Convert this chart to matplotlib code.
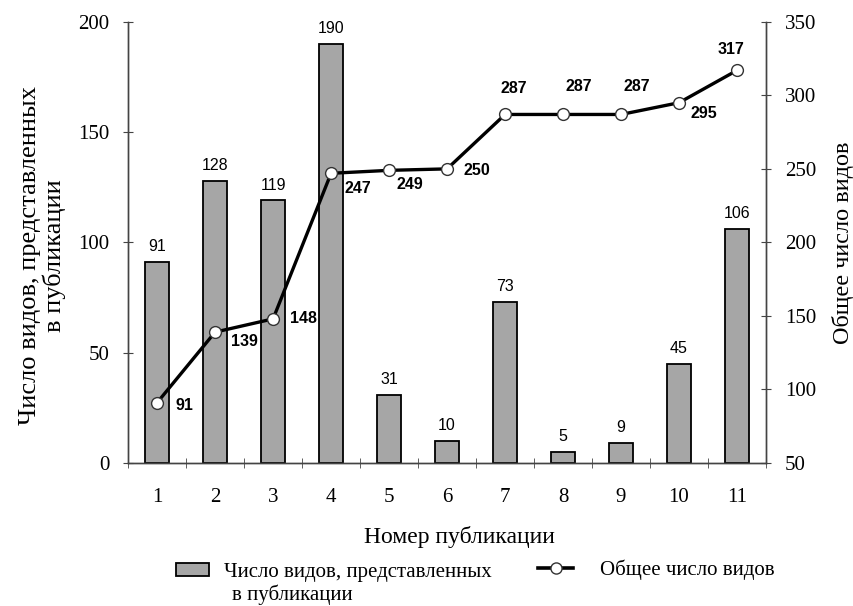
import matplotlib.pyplot as plt
from matplotlib.patches import Patch
from matplotlib.lines import Line2D

publications = [1, 2, 3, 4, 5, 6, 7, 8, 9, 10, 11]
species_in_pub = [91, 128, 119, 190, 31, 10, 73, 5, 9, 45, 106]
total_species = [91, 139, 148, 247, 249, 250, 287, 287, 287, 295, 317]

# label offsets for the cumulative line (points): dx, dy, horizontal alignment
line_label_pos = [(13, -2, 'left'), (11.5, -7, 'left'), (12, 0, 'left'),
                  (9.5, -11, 'left'), (5, -10, 'left'), (11.5, -1, 'left'),
                  (6, 19, 'center'), (11.5, 20, 'center'), (11, 20, 'center'),
                  (8, -8, 'left'), (-4, 15, 'center')]

plt.rcParams['font.family'] = ['Liberation Serif', 'DejaVu Serif']
sans = ['Liberation Sans', 'DejaVu Sans']
axis_col = '#444444'
bar_col = '#a6a6a6'

fig = plt.figure(figsize=(8.54, 6.06), dpi=100)
ax = fig.add_axes([0.150, 0.236, 0.747, 0.728])
ax2 = ax.twinx()
ax.set_zorder(ax2.get_zorder() - 1)
ax2.patch.set_visible(False)

ax.bar(publications, species_in_pub, width=0.42, color=bar_col,
       edgecolor='black', linewidth=1.3, zorder=2)
for x, v in zip(publications, species_in_pub):
    ax.annotate(str(v), (x, v), xytext=(0, 11), textcoords='offset points',
                ha='center', va='center', fontsize=11.5, family=sans)

ax2.plot(publications, total_species, color='black', linewidth=2.4,
         marker='o', markersize=8.5, markerfacecolor='white',
         markeredgecolor='#333333', markeredgewidth=1.0, zorder=3)
for x, v, (dx, dy, ha) in zip(publications, total_species, line_label_pos):
    ax2.annotate(str(v), (x, v), xytext=(dx, dy), textcoords='offset points',
                 ha=ha, va='center', fontsize=11.5, fontweight='bold', family=sans)

ax.set_xlim(0.5, 11.5)
ax.set_ylim(0, 200)
ax2.set_ylim(50, 350)
ax.set_xticks(publications)
ax.set_xticks([p + 0.5 for p in [0] + publications], minor=True)
ax.tick_params(axis='x', which='major', length=0, pad=18, labelsize=15)
ax.tick_params(axis='x', which='minor', length=7, direction='inout', color=axis_col)
ax.set_yticks([0, 50, 100, 150, 200])
ax2.set_yticks([50, 100, 150, 200, 250, 300, 350])
ax.tick_params(axis='y', length=7, direction='inout', color=axis_col, pad=10, labelsize=15)
ax2.tick_params(axis='y', length=7, direction='inout', color=axis_col, pad=10, labelsize=15)

for a in (ax, ax2):
    a.spines['top'].set_visible(False)
    for s in ('left', 'right', 'bottom'):
        a.spines[s].set_color(axis_col)
        a.spines[s].set_linewidth(1.0)

ax.set_xlabel('Номер публикации', fontsize=17)
ax.xaxis.set_label_coords(0.52, -0.142)
ax.set_ylabel('Число видов, представленных\nв публикации', fontsize=19, linespacing=1.1)
ax.yaxis.set_label_coords(-0.097, 0.47)
ax2.set_ylabel('Общее число видов', fontsize=17.5, rotation=90)
ax2.yaxis.set_label_coords(1.103, 0.5)

bar_handle = Patch(facecolor=bar_col, edgecolor='black', linewidth=1.3)
line_handle = Line2D([], [], color='black', linewidth=2.6, marker='o', markersize=8,
                     markerfacecolor='white', markeredgecolor='#333333')
fig.legend([bar_handle], ['Число видов, представленных'], loc='center left',
           bbox_to_anchor=(176 / 854, 1 - 572 / 606), frameon=False, fontsize=15,
           handlelength=1.6, handleheight=0.6, handletextpad=0.7, borderpad=0,
           borderaxespad=0)
fig.text(232 / 854, 1 - 595 / 606, 'в публикации', fontsize=15, va='center', ha='left')
fig.legend([line_handle], ['Общее число видов'], loc='center left',
           bbox_to_anchor=(538 / 854, 1 - 570 / 606), frameon=False, fontsize=15,
           handlelength=1.7, handletextpad=1.3, borderpad=0, borderaxespad=0)

fig.savefig('out.png', dpi=100)
